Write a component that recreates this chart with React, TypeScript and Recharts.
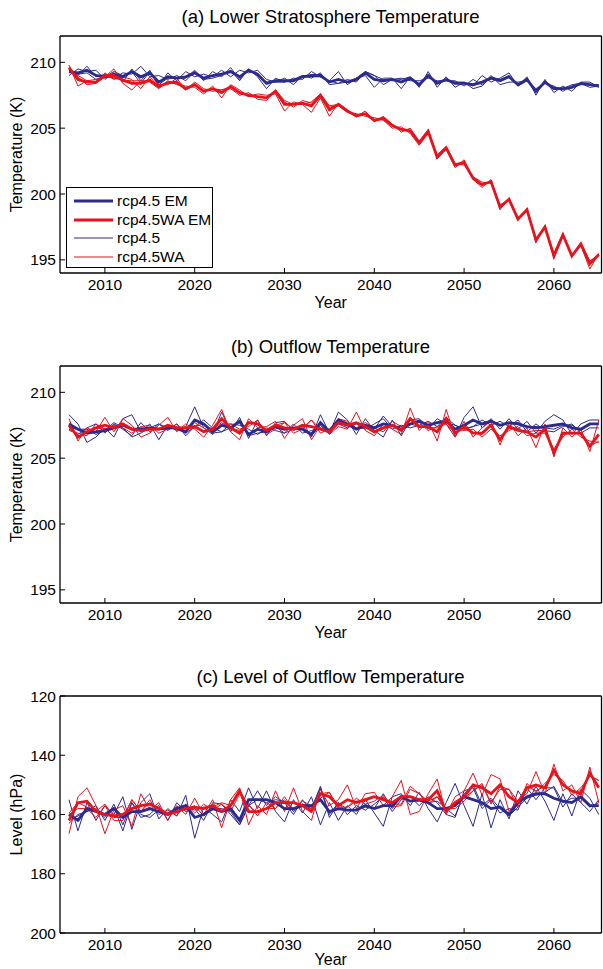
import React from 'react';
import { LineChart, Line, XAxis, YAxis, Legend } from 'recharts';

const years = Array.from({ length: 60 }, (_, i) => 2006 + i);
const xTicks = [2010, 2020, 2030, 2040, 2050, 2060];
const tempTicks = [195, 200, 205, 210];
const levelTicks = [120, 140, 160, 180, 200];

// (a) Lower Stratosphere Temperature
const aBlueEM = [209.3,209.2,209.4,209.0,208.9,209.1,208.9,209.3,208.9,209.2,208.5,208.9,208.8,208.9,209.2,208.8,209.0,209.1,209.3,208.9,209.4,209.1,208.4,208.6,208.6,208.6,208.9,209.0,209.0,208.5,208.7,208.5,208.7,209.2,208.7,208.6,208.7,208.5,208.8,208.3,209.0,208.4,208.7,208.4,208.4,208.3,208.5,208.8,208.6,208.9,208.3,208.7,207.8,208.5,208.0,208.0,208.1,208.4,208.3,208.2];
const aBlue1 = [209.4,209.0,209.7,208.9,209.1,208.8,209.2,209.1,209.7,208.9,209.0,208.7,209.0,208.6,209.3,208.6,209.3,208.9,209.6,208.7,209.5,208.9,208.0,208.8,208.5,208.8,208.7,209.3,208.9,208.6,209.3,208.3,208.8,209.0,208.1,208.8,208.8,208.0,208.9,208.1,209.3,208.1,208.9,208.1,208.5,208.2,209.0,208.5,208.8,209.2,208.2,208.9,207.5,208.7,207.7,208.2,207.8,208.5,208.5,208.1];
const aBlue2 = [209.0,209.5,209.3,209.4,208.7,209.2,208.5,209.5,208.6,209.4,208.2,209.2,208.6,209.3,208.9,209.1,208.9,209.4,208.9,209.4,209.2,209.4,208.7,208.5,208.8,208.3,209.0,208.8,209.2,208.3,208.4,208.7,208.5,209.3,209.0,208.3,208.7,208.8,208.6,208.6,208.8,208.6,208.6,208.6,208.2,208.7,208.3,209.0,208.3,208.5,208.5,208.6,208.0,208.4,208.2,207.8,208.2,208.3,208.3,208.3];
const aBlue3 = [209.5,209.1,209.2,208.7,208.9,209.3,209.0,209.3,208.4,209.3,208.3,208.8,208.8,208.8,209.4,208.7,208.8,209.0,209.4,208.6,209.5,209.0,208.5,208.5,208.5,208.7,209.0,208.9,208.9,208.6,208.4,208.5,208.8,209.3,209.0,208.7,208.6,208.7,208.9,208.2,208.9,208.5,208.6,208.5,208.5,208.0,208.2,208.9,208.7,209.0,208.2,208.6,207.9,208.4,208.1,208.0,208.3,208.4,208.1,208.2];
const aRedEM = [209.6,208.7,208.5,208.5,209.0,209.0,208.65,208.4,208.4,208.65,208.15,208.45,208.5,208.0,208.3,207.8,208.0,207.7,208.15,207.7,207.5,207.4,207.3,207.8,206.8,206.8,206.9,206.7,207.5,206.4,206.8,206.3,205.95,206.1,205.6,205.75,205.2,204.9,204.8,203.9,204.75,202.8,203.5,202.2,202.4,201.2,200.7,200.95,199.0,199.6,198.1,198.8,196.5,197.5,195.3,196.9,195.3,196.2,194.7,195.4];
const aRed1 = [209.8,208.2,208.6,208.7,208.9,209.5,208.4,207.9,208.6,208.5,208.0,208.6,208.3,208.2,208.1,207.6,208.2,207.3,208.3,207.9,207.4,207.6,207.5,207.6,206.3,207.0,206.8,206.2,207.3,205.9,206.9,206.4,205.9,206.3,205.5,205.9,205.3,204.7,205.0,204.0,204.9,202.7,203.4,202.0,202.6,201.1,200.5,201.1,198.8,199.7,198.0,198.9,196.3,197.6,195.1,196.8,195.4,196.1,194.3,195.5];
const aRed2 = [209.5,208.9,208.3,208.4,209.2,208.7,208.9,208.7,208.0,208.9,208.3,208.3,208.8,207.9,208.5,208.0,207.8,207.9,208.0,207.5,207.7,207.2,207.1,207.9,207.0,206.6,207.1,206.9,207.6,206.6,206.7,206.2,206.1,205.9,205.8,205.6,205.0,205.1,204.6,203.7,204.6,203.0,203.6,202.3,202.2,201.3,200.9,200.8,199.2,199.5,198.2,198.7,196.6,197.4,195.5,197.0,195.2,196.3,194.9,195.3];
const aRed3 = [209.5,209.0,208.6,208.4,208.9,208.8,208.65,208.6,208.6,208.55,208.15,208.45,208.4,207.9,208.3,207.8,208.0,207.9,208.15,207.7,207.4,207.4,207.3,207.9,207.1,206.8,206.8,207.0,207.6,206.7,206.8,206.3,205.85,206.1,205.5,205.75,205.3,204.9,204.8,204.0,204.75,202.7,203.5,202.3,202.4,201.2,200.7,200.95,199.0,199.6,198.1,198.8,196.6,197.5,195.3,196.9,195.3,196.2,194.9,195.4];

// (b) Outflow Temperature
const bBlueEM = [207.6,207.2,206.9,207.0,207.1,207.3,207.5,207.2,207.2,207.3,207.2,207.3,207.3,207.0,207.9,207.6,207.0,207.5,207.3,207.8,206.8,207.2,207.0,207.4,207.2,207.3,207.2,206.8,207.7,207.0,207.9,207.6,207.2,207.5,207.3,207.6,207.5,207.2,207.6,207.8,207.5,207.7,207.8,207.2,207.5,207.9,207.6,207.8,207.5,207.7,207.6,207.4,207.3,207.4,207.5,207.6,207.3,207.2,207.6,207.6];
const bBlue1 = [208.3,207.6,206.2,206.6,207.3,206.6,208.0,208.3,207.0,207.6,206.4,207.5,207.1,207.4,208.9,207.3,206.8,208.5,207.0,208.1,206.5,207.9,206.7,207.7,207.8,207.1,207.5,206.6,208.3,206.9,208.5,207.9,206.8,208.0,207.1,206.6,207.9,206.7,207.9,208.0,207.2,208.0,207.6,206.6,208.1,208.9,207.3,208.0,207.2,208.0,207.2,207.8,206.9,207.8,208.3,207.9,206.8,207.6,207.9,207.9];
const bBlue2 = [207.2,206.8,207.3,207.6,206.9,207.6,207.2,206.7,207.7,207.0,207.6,207.1,207.6,206.7,207.4,207.9,207.3,207.0,207.6,207.5,207.2,206.8,207.3,207.1,206.9,207.6,206.9,207.1,207.3,207.2,207.6,207.3,207.6,207.2,207.6,208.0,207.2,207.5,207.3,207.5,207.8,207.4,208.1,207.5,207.2,207.4,207.9,207.5,207.8,207.4,207.9,207.0,207.6,207.1,207.0,207.4,207.6,206.9,207.3,207.3];
const bBlue3 = [207.3,207.2,207.2,206.8,207.1,207.7,207.3,206.6,206.9,207.3,207.6,207.3,207.2,206.9,207.4,207.6,206.9,207.0,207.3,207.8,206.7,206.9,207.0,207.4,206.9,207.2,207.2,206.7,207.5,206.9,207.6,207.6,207.2,207.3,207.2,208.2,207.4,207.4,207.6,207.9,207.5,207.7,207.7,207.5,207.2,207.4,207.6,207.9,207.5,207.7,207.7,207.4,207.4,207.3,207.2,207.5,207.5,207.1,207.6,207.6];
const bRedEM = [207.5,206.6,207.0,207.3,207.5,207.3,207.6,207.2,207.1,207.2,207.2,207.5,207.3,207.3,207.4,207.0,207.2,208.0,207.3,206.9,207.7,207.6,207.1,207.5,207.3,207.2,207.5,207.4,207.2,207.0,207.7,207.5,207.7,207.4,207.0,207.3,207.5,207.1,208.0,207.4,207.4,207.0,208.0,206.9,207.4,206.9,206.9,207.5,206.4,207.4,207.1,207.0,206.6,207.2,205.4,206.9,206.9,206.9,205.9,206.8];
const bRed1 = [208.0,206.3,207.3,207.0,208.1,207.0,208.0,207.5,206.6,206.9,207.5,208.1,207.0,207.6,207.2,206.6,207.5,208.7,207.0,206.4,208.0,207.3,207.4,207.8,206.5,207.5,208.0,206.4,207.5,206.8,207.4,207.2,208.5,207.1,206.7,207.6,207.2,206.8,208.8,207.1,207.8,206.3,208.7,206.6,207.8,206.6,207.3,207.8,206.0,207.7,206.7,207.3,205.8,207.6,205.1,207.3,206.6,207.2,205.5,207.9];
const bRed2 = [207.1,206.9,206.7,207.6,207.2,207.5,207.3,206.9,207.4,207.5,206.9,207.2,207.6,207.0,207.7,207.3,206.9,207.6,207.6,207.2,207.4,207.9,206.8,207.2,207.7,206.9,207.2,207.9,206.9,207.2,208.0,207.8,207.3,207.7,207.3,207.0,207.8,207.4,207.6,207.7,207.1,207.4,207.7,207.2,207.1,207.2,206.6,207.2,206.7,207.1,207.4,206.7,206.9,206.9,205.7,206.6,207.2,206.6,206.3,206.2];
const bRed3 = [207.4,206.6,207.0,207.3,207.2,207.4,207.5,207.2,207.3,207.2,207.2,207.2,207.3,207.3,207.3,207.1,207.2,207.7,207.3,207.1,207.7,207.6,207.1,207.5,207.7,207.2,207.3,207.9,207.2,207.0,207.7,207.5,207.3,207.4,207.0,207.3,207.5,207.1,207.6,207.4,207.3,207.3,207.6,206.9,207.3,206.9,206.8,207.5,206.5,207.4,207.2,207.0,207.1,207.1,205.4,206.8,206.9,206.9,205.9,206.3];

// (c) Level of Outflow Temperature
const cBlueEM = [160,162,158,159,160,158,161,159,159,158,159,160,158,157,161,160,158,159,158,162,155,155,155,156,158,158,157,157,155,159,158,158.5,158.5,157,158,157,157,154,155.5,155,156,158,158,157,154,155,156,158,157.5,160,156,154,153,153,154.5,155.5,156,154,157,157];
const cBlue1 = [155,165.5,156,162,157,160,154,165,156,153,161.5,158,160.5,153.5,168,157.5,160,162.5,155,159,151,158,152,159,162.5,155,159.5,154,163.5,156,162,157,160,155,159.5,164,154,153,157,152.5,158,162.5,156,149.5,157,164,153,164.5,155,161.5,152,156.5,150.5,155.5,162,153,160.5,151.5,154.5,160];
const cBlue2 = [163,160,159,157,162,156.5,163.5,156,161,160,157,162,156,159,158,162,156,156.5,160,163.5,157,152,157,154,156,160,155,159,151,161,156,160,157,158.5,156.5,154,159,155,154,157,154,156,160,161,152,151,158,155,159.5,158,158.5,151,155,151,151,157.5,153,156,159,155];
const cBlue3 = [162,160.5,159,158,161,157.5,165.5,156,160,161,158.5,160,157.5,158.5,157,160.5,158,158,159,163.5,157,155,156,155,155.5,159,156.5,158,150.5,160,156,158.5,158.5,157.5,158,153,158,154,155.5,155.5,156,155.5,158,160.5,153,150,157,154.5,158,160.5,157.5,154.5,153.5,152.5,150.5,156,154.5,154.5,157.5,156];
const cRedEM = [162,156,155.5,159,160,160.5,160,158,157,156.5,158,160,159,158,157.5,158,157,159,157,152,159,159,158,156,156,156,157,159,153,154,157,155,156,155,154,155,156,154,154,155,155,152,159,156,154,150,151,153,150,154,156,151,150,151,145,150,152,153,146,151];
const cRed1 = [166.5,154,151,157,166.5,158.5,157,164,153,158.5,156,162,157,160,154.5,160,155,164.5,155,151,163.5,157,160,152,159,151,159,162,151.5,157,155,150,158,153,152.5,157,154,148.5,160,159,153,148,160,154,152,146,153.5,146.5,148,159,155,153,145.5,153,143,152,150,156,144,156];
const cRed2 = [160,158,158,161,157,162,162,155,159,155,160,158.5,160.5,156.5,159.5,156.5,158.5,156.5,159,153,156.5,160.5,156,158,154,158.5,155.5,157,154.5,152.5,158.5,157.5,154.5,156.5,155.5,153.5,157.5,157,151.5,153,156.5,154,158,158,155.5,152,149.5,156,151.5,151.5,157.5,149.5,152.5,149.5,146.5,148.5,153.5,151,147,148.5];
const cRed3 = [159.5,156,157.5,159,156.5,161,161,155,159,156,158,159.5,159.5,157.5,158.5,157.5,157.5,156,157,152,157,159.5,158,158,155,158.5,156.5,158,153,152.5,157.5,157.5,155.5,155.5,154,154.5,156.5,156.5,150.5,153,155.5,154,159,156,154.5,152,150,156.5,150.5,151.5,155.5,150.5,152,150.5,145.5,149.5,152.5,152,147,148.5];

const BLUE = '#2c2a8c';
const RED = '#e6121c';
const FONT = '"Liberation Sans", Arial, Helvetica, sans-serif';

const legendItems = [
  { label: 'rcp4.5 EM', color: BLUE, width: 3 },
  { label: 'rcp4.5WA EM', color: RED, width: 3 },
  { label: 'rcp4.5', color: BLUE, width: 1 },
  { label: 'rcp4.5WA', color: RED, width: 1 },
];

type Panel = {
  title: string;
  yLabel: string;
  domain: [number, number];
  ticks: number[];
  reversed: boolean;
  top: number;
  blueEM: number[];
  redEM: number[];
  blueM: number[][];
  redM: number[][];
  legend: boolean;
  yearOffset: number;
};

const panels: Panel[] = [
  { title: '(a) Lower Stratosphere Temperature', yLabel: 'Temperature (K)', domain: [194, 212], ticks: tempTicks, reversed: false, top: 0,
    blueEM: aBlueEM, redEM: aRedEM, blueM: [aBlue1, aBlue2, aBlue3], redM: [aRed1, aRed2, aRed3], legend: true, yearOffset: 2 },
  { title: '(b) Outflow Temperature', yLabel: 'Temperature (K)', domain: [194, 212], ticks: tempTicks, reversed: false, top: 330,
    blueEM: bBlueEM, redEM: bRedEM, blueM: [bBlue1, bBlue2, bBlue3], redM: [bRed1, bRed2, bRed3], legend: false, yearOffset: 2 },
  { title: '(c) Level of Outflow Temperature', yLabel: 'Level (hPa)', domain: [120, 200], ticks: levelTicks, reversed: true, top: 660,
    blueEM: cBlueEM, redEM: cRedEM, blueM: [cBlue1, cBlue2, cBlue3], redM: [cRed1, cRed2, cRed3], legend: false, yearOffset: 5.5 },
];

function buildRows(p: Panel) {
  return years.map((y, i) => {
    const row: Record<string, number> = { year: y, bEM: p.blueEM[i], rEM: p.redEM[i] };
    p.blueM.forEach((m, k) => { row['b' + k] = m[i]; });
    p.redM.forEach((m, k) => { row['r' + k] = m[i]; });
    return row;
  });
}

function LegendBox() {
  return (
    <div style={{ width: 147, height: 81, border: '1.5px solid #000', background: '#fff', boxSizing: 'border-box', position: 'relative', fontFamily: FONT, fontSize: 15.5, color: '#000' }}>
      {legendItems.map((it, i) => (
        <div key={i} style={{ position: 'absolute', left: 7, top: 3.5 + i * 18.7, height: 18.7, display: 'flex', alignItems: 'center', whiteSpace: 'nowrap' }}>
          <svg width={39} height={6} style={{ display: 'block' }}>
            <line x1={0} x2={39} y1={3} y2={3} stroke={it.color} strokeWidth={it.width} />
          </svg>
          <span style={{ marginLeft: 4, lineHeight: '18px' }}>{it.label}</span>
        </div>
      ))}
    </div>
  );
}

const XDOM: [number, number] = [2005, 2065.3];
const axisLine = { stroke: '#000', strokeWidth: 1.3 };
const tickLine = { stroke: '#000', strokeWidth: 1 };
const tickStyle = { fill: '#000', fontSize: 15.5, fontFamily: FONT };

function PanelChart({ p }: { p: Panel }) {
  const rows = buildRows(p);
  return (
    <div style={{ position: 'absolute', left: 0, top: p.top, width: 603, height: 310 }}>
      <div style={{ position: 'absolute', left: 60, width: 541, top: 6, height: 22, lineHeight: '22px', textAlign: 'center', fontFamily: FONT, fontSize: 18.5, color: '#000' }}>
        {p.title}
      </div>
      <LineChart width={603} height={310} data={rows} margin={{ top: 35, right: 0.5, bottom: 0, left: 0 }}>
        <XAxis xAxisId="x" dataKey="year" type="number" domain={XDOM} ticks={xTicks} interval={0} allowDataOverflow
          height={37} tickSize={-5} tickMargin={11} axisLine={axisLine} tickLine={tickLine} tick={tickStyle}
          label={{ value: 'Year', position: 'insideBottom', offset: p.yearOffset, style: { fontSize: 16, fill: '#000', fontFamily: FONT } }} />
        <XAxis xAxisId="xt" orientation="top" dataKey="year" type="number" domain={XDOM} ticks={xTicks} interval={0} allowDataOverflow
          height={1} tickSize={-6} tick={false} axisLine={axisLine} tickLine={tickLine} />
        <YAxis yAxisId="y" type="number" domain={p.domain} ticks={p.ticks} interval={0} allowDataOverflow reversed={p.reversed}
          width={60} tickSize={-5} tickMargin={9} axisLine={axisLine} tickLine={tickLine} tick={tickStyle}
          label={{ value: p.yLabel, angle: -90, position: 'insideLeft', offset: 16, style: { textAnchor: 'middle', fontSize: 16, fill: '#000', fontFamily: FONT } }} />
        <YAxis yAxisId="yr" orientation="right" type="number" domain={p.domain} ticks={p.ticks} interval={0} allowDataOverflow reversed={p.reversed}
          width={1} tickSize={-6} tick={false} axisLine={axisLine} tickLine={tickLine} />
        {p.blueM.map((_, k) => (
          <Line key={'b' + k} xAxisId="x" yAxisId="y" type="linear" dataKey={'b' + k} stroke={BLUE} strokeWidth={1} dot={false} activeDot={false} isAnimationActive={false} />
        ))}
        {p.redM.map((_, k) => (
          <Line key={'r' + k} xAxisId="x" yAxisId="y" type="linear" dataKey={'r' + k} stroke={RED} strokeWidth={1} dot={false} activeDot={false} isAnimationActive={false} />
        ))}
        <Line xAxisId="x" yAxisId="y" type="linear" dataKey="bEM" stroke={BLUE} strokeWidth={2.8} dot={false} activeDot={false} isAnimationActive={false} />
        <Line xAxisId="x" yAxisId="y" type="linear" dataKey="rEM" stroke={RED} strokeWidth={2.8} dot={false} activeDot={false} isAnimationActive={false} />
        {p.legend && (
          <Legend layout="horizontal" verticalAlign="middle" align="center" content={() => <LegendBox />}
            wrapperStyle={{ left: 66, top: 187, width: 147, height: 81, right: 'auto', bottom: 'auto' }} />
        )}
      </LineChart>
    </div>
  );
}

export default function App() {
  return (
    <div style={{ position: 'absolute', left: 0, top: 0, width: 603, height: 969, overflow: 'hidden', background: '#fff' }}>
      {panels.map((p, i) => <PanelChart key={i} p={p} />)}
    </div>
  );
}
